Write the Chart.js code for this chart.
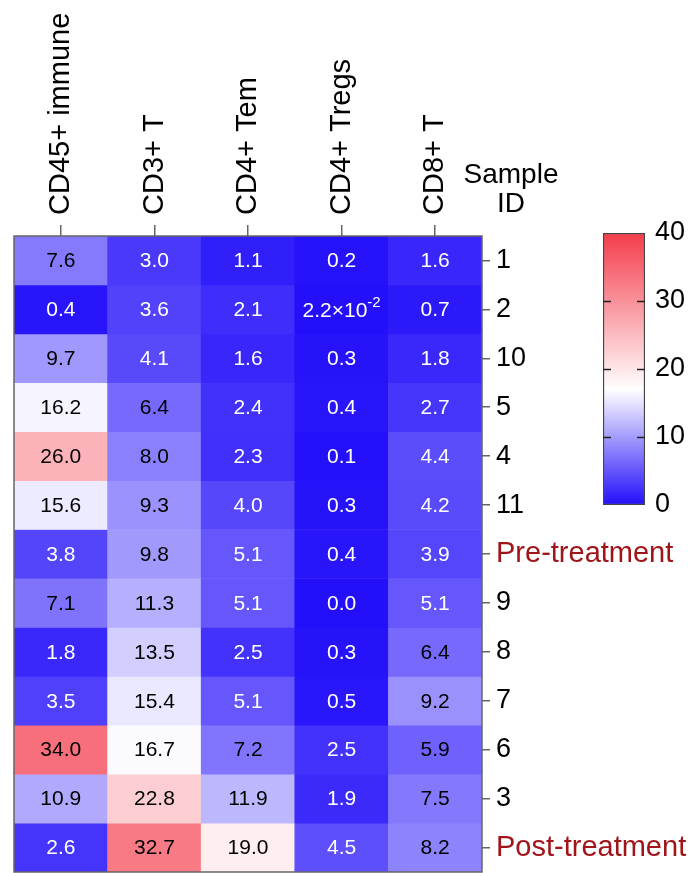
<!DOCTYPE html>
<html>
<head>
<meta charset="utf-8">
<script src="https://cdn.jsdelivr.net/npm/chart.js@4.4.0/dist/chart.umd.min.js"></script>
<style>
  html, body { margin: 0; padding: 0; background: #fff; }
  #wrap { position: relative; width: 690px; height: 873px; }
  #wrap canvas { position: absolute; left: 0; top: 0; }
</style>
</head>
<body>
<div id="wrap">
  <canvas id="heat" width="690" height="873"></canvas>
  <canvas id="scalebar" width="690" height="873"></canvas>
</div>
<script>
// columns (cell populations) and rows (samples), top to bottom
const cellTypes = ['CD45+ immune', 'CD3+ T', 'CD4+ Tem', 'CD4+ Tregs', 'CD8+ T'];
const sampleIds = ['1', '2', '10', '5', '4', '11', 'Pre-treatment', '9', '8', '7', '6', '3', 'Post-treatment'];

// values per column, in the same row order as sampleIds
const cd45Immune = [7.6, 0.4, 9.7, 16.2, 26.0, 15.6, 3.8, 7.1, 1.8, 3.5, 34.0, 10.9, 2.6];
const cd3T       = [3.0, 3.6, 4.1, 6.4, 8.0, 9.3, 9.8, 11.3, 13.5, 15.4, 16.7, 22.8, 32.7];
const cd4Tem     = [1.1, 2.1, 1.6, 2.4, 2.3, 4.0, 5.1, 5.1, 2.5, 5.1, 7.2, 11.9, 19.0];
const cd4Tregs   = [0.2, 0.022, 0.3, 0.4, 0.1, 0.3, 0.4, 0.0, 0.3, 0.5, 2.5, 1.9, 4.5];
const cd8T       = [1.6, 0.7, 1.8, 2.7, 4.4, 4.2, 3.9, 5.1, 6.4, 9.2, 5.9, 7.5, 8.2];
const columns = [cd45Immune, cd3T, cd4Tem, cd4Tregs, cd8T];

// colour scale
const scaleMin = 0, scaleMid = 17, scaleMax = 40;
const scaleTicks = [0, 10, 20, 30, 40];

const FONT = 'Arial, "Liberation Sans", sans-serif';
const lowColor = [35, 15, 250];
const midColor = [255, 255, 255];
const highColor = [244, 60, 75];

function mix(a, b, t) {
    return a.map((v, i) => Math.round(v + (b[i] - v) * t));
}
function colorFor(v) {
    let c;
    if (v <= scaleMid) c = mix(lowColor, midColor, Math.max(0, v - scaleMin) / (scaleMid - scaleMin));
    else c = mix(midColor, highColor, Math.min(1, (v - scaleMid) / (scaleMax - scaleMid)));
    return 'rgb(' + c.join(',') + ')';
}
function isGroupLabel(i) {
    return sampleIds[i].indexOf('treatment') >= 0;
}

// one floating-bar dataset per row
const datasets = sampleIds.map((id, r) => ({
    label: id,
    data: columns.map(() => [r, r + 1]),
    backgroundColor: columns.map(col => colorFor(col[r])),
    borderWidth: 0,
    barPercentage: 1,
    categoryPercentage: 1,
    grouped: false
}));

// numbers inside the cells
const cellLabels = {
    id: 'cellLabels',
    afterDatasetsDraw(chart) {
        const ctx = chart.ctx;
        ctx.save();
        ctx.textBaseline = 'middle';
        chart.data.datasets.forEach((ds, r) => {
            chart.getDatasetMeta(r).data.forEach((bar, c) => {
                const v = columns[c][r];
                const cx = bar.x;
                const cy = (bar.y + bar.base) / 2;
                ctx.fillStyle = v >= 5.5 ? '#000' : '#fff';
                if (v > 0 && v < 0.05) {
                    // scientific style, e.g. 2.2x10^-2
                    const e = Math.floor(Math.log10(v));
                    const main = (v / Math.pow(10, e)).toFixed(1) + '\u00d710';
                    const sup = String(e);
                    ctx.font = '21px ' + FONT;
                    const w1 = ctx.measureText(main).width;
                    ctx.font = '15px ' + FONT;
                    const w2 = ctx.measureText(sup).width;
                    const x0 = cx - (w1 + w2) / 2;
                    ctx.textAlign = 'left';
                    ctx.font = '21px ' + FONT;
                    ctx.fillText(main, x0, cy + 2);
                    ctx.font = '15px ' + FONT;
                    ctx.fillText(sup, x0 + w1, cy - 7);
                } else {
                    ctx.textAlign = 'center';
                    ctx.font = '21px ' + FONT;
                    ctx.fillText(v.toFixed(1), cx, cy + 1);
                }
            });
        });
        ctx.restore();
    }
};

// frame around the heatmap and the "Sample ID" heading
const frameAndTitle = {
    id: 'frameAndTitle',
    afterDraw(chart) {
        const { ctx, chartArea: a } = chart;
        ctx.save();
        ctx.strokeStyle = '#666';
        ctx.lineWidth = 1.5;
        ctx.strokeRect(a.left, a.top, a.right - a.left, a.bottom - a.top);
        ctx.fillStyle = '#000';
        ctx.font = '28px ' + FONT;
        ctx.textAlign = 'center';
        ctx.textBaseline = 'alphabetic';
        ctx.fillText('Sample', a.right + 29, 183);
        ctx.fillText('ID', a.right + 29, 212);
        ctx.restore();
    }
};

const noEdgePadding = s => {
    s.paddingTop = 0; s.paddingBottom = 0; s.paddingLeft = 0; s.paddingRight = 0;
};

new Chart(document.getElementById('heat'), {
    type: 'bar',
    data: { labels: cellTypes, datasets: datasets },
    options: {
        responsive: false,
        animation: false,
        layout: { padding: { left: 14, top: 0, right: 0, bottom: 1 } },
        plugins: { legend: { display: false }, tooltip: { enabled: false } },
        scales: {
            x: {
                type: 'category',
                position: 'top',
                offset: true,
                grid: { drawOnChartArea: false, offset: false, tickLength: 11, color: '#666', lineWidth: 1.5 },
                border: { display: false },
                ticks: { minRotation: 90, maxRotation: 90, padding: 10, labelOffset: 35, color: '#000', font: { size: 29, family: FONT } },
                afterFit: s => { s.height = 236; noEdgePadding(s); }
            },
            y: { display: false, min: 0, max: sampleIds.length, reverse: true },
            y2: {
                type: 'category',
                labels: sampleIds,
                position: 'right',
                offset: true,
                grid: { drawOnChartArea: false, offset: false, tickLength: 8, color: '#666', lineWidth: 1.5 },
                border: { display: false },
                ticks: {
                    autoSkip: false,
                    padding: 6,
                    color: c => isGroupLabel(c.index) ? '#a0141a' : '#000',
                    font: c => ({ size: isGroupLabel(c.index) ? 29 : 27, family: FONT })
                },
                afterFit: s => { s.width = 208; noEdgePadding(s); }
            }
        }
    },
    plugins: [cellLabels, frameAndTitle]
});

// colour bar
const barTickMarks = {
    id: 'barTickMarks',
    afterDatasetsDraw(chart) {
        const { ctx, chartArea: a } = chart;
        const ys = chart.scales.y;
        ctx.save();
        ctx.strokeStyle = '#222';
        ctx.lineWidth = 1.5;
        scaleTicks.slice(1, -1).forEach(v => {
            const y = Math.round(ys.getPixelForValue(v)) + 0.5;
            ctx.beginPath();
            ctx.moveTo(a.left, y); ctx.lineTo(a.left + 8, y);
            ctx.moveTo(a.right - 8, y); ctx.lineTo(a.right, y);
            ctx.stroke();
        });
        ctx.restore();
    }
};

new Chart(document.getElementById('scalebar'), {
    type: 'bar',
    data: {
        labels: [''],
        datasets: [{
            data: [[scaleMin, scaleMax]],
            backgroundColor: c => {
                const chart = c.chart;
                if (!chart.chartArea) return colorFor(scaleMin);
                const ys = chart.scales.y;
                const g = chart.ctx.createLinearGradient(0, ys.getPixelForValue(scaleMin), 0, ys.getPixelForValue(scaleMax));
                g.addColorStop(0, colorFor(scaleMin));
                g.addColorStop((scaleMid - scaleMin) / (scaleMax - scaleMin), colorFor(scaleMid));
                g.addColorStop(1, colorFor(scaleMax));
                return g;
            },
            borderColor: '#444',
            borderWidth: 1.5,
            borderSkipped: false,
            barPercentage: 1,
            categoryPercentage: 1
        }]
    },
    options: {
        responsive: false,
        animation: false,
        layout: { padding: { left: 603, top: 233, right: 0, bottom: 368 } },
        plugins: { legend: { display: false }, tooltip: { enabled: false } },
        scales: {
            x: { display: false },
            y: {
                position: 'right',
                min: scaleMin,
                max: scaleMax,
                afterBuildTicks: s => { s.ticks = scaleTicks.map(v => ({ value: v })); },
                grid: { display: false, drawTicks: false },
                border: { display: false },
                ticks: { padding: 10, color: '#000', font: { size: 27, family: FONT } },
                afterFit: s => { s.width = 45; }
            }
        }
    },
    plugins: [barTickMarks]
});
</script>
</body>
</html>
